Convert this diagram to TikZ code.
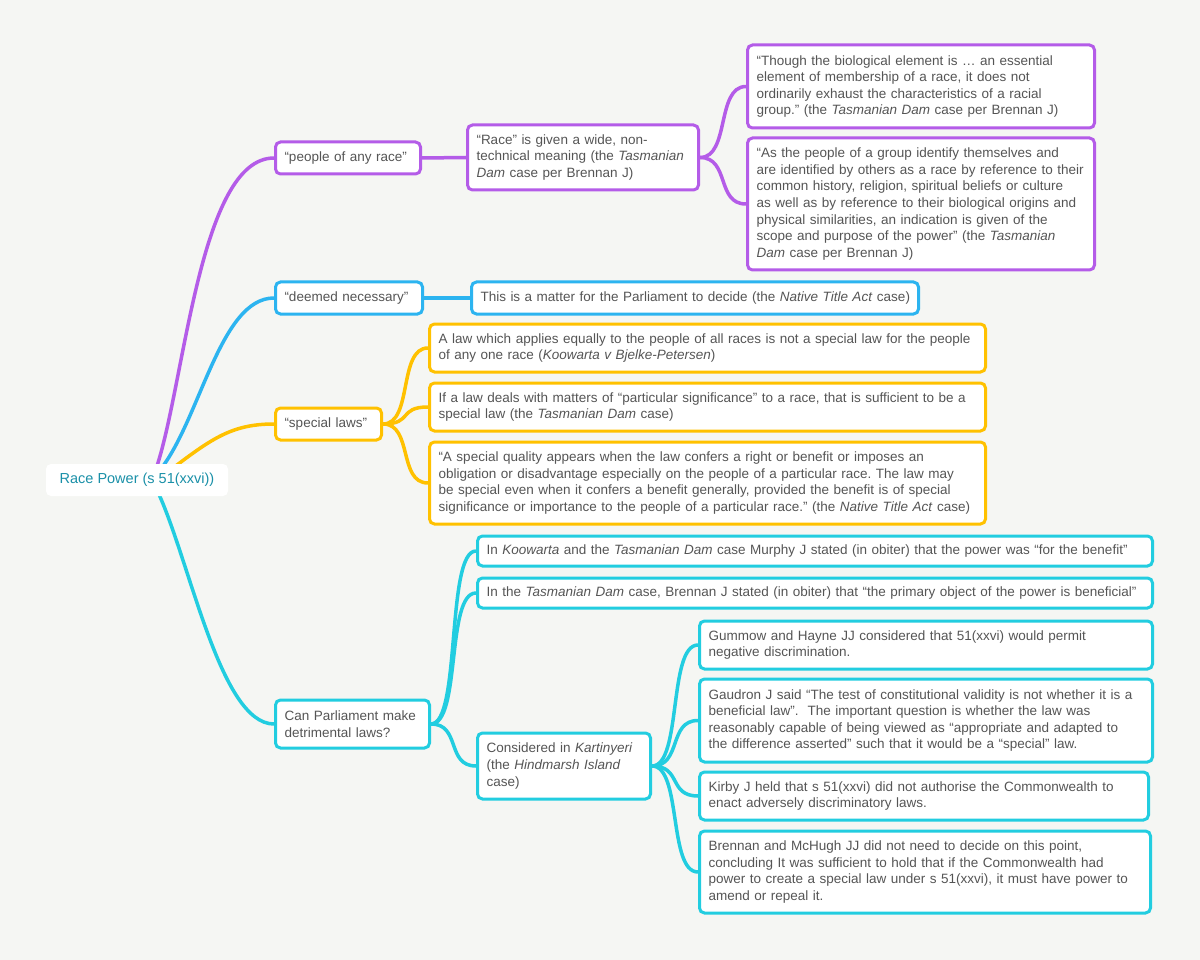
\documentclass[tikz,border=0pt]{standalone}
\usepackage{fontspec}
\setmainfont{Liberation Sans}
\frenchspacing
\definecolor{bg}{HTML}{F5F6F3}
\definecolor{cpur}{HTML}{B45CE8}
\definecolor{cblu}{HTML}{2CB4F0}
\definecolor{cyel}{HTML}{FFC100}
\definecolor{ccya}{HTML}{22CDE0}
\definecolor{txt}{HTML}{555555}
\definecolor{rootc}{HTML}{1A90A8}
\begin{document}
\begin{tikzpicture}[x=1pt,y=-1pt,
  box/.style={draw=#1, rounded corners=5pt, line width=3pt, fill=white, text=txt,
    font=\fontsize{13.5}{16.6}\selectfont, align=left, inner xsep=9pt, inner ysep=0pt},
  lnk/.style={draw=#1, line width=3.5pt}]
\fill[bg] (0,0) rectangle (1200,960);
\useasboundingbox (0,0) rectangle (1200,960);
\coordinate (r1) at (157,466);
\coordinate (r2) at (160,470);
\coordinate (r3) at (165,474);
\coordinate (r4) at (157,490);
% level 1
\node[box=cpur, text width=127pt, minimum height=32pt] (pr) at (348,158) {“people of any race”};
\node[box=cblu, text width=129pt, minimum height=32pt] (dn) at (349,298) {“deemed necessary”};
\node[box=cyel, text width=88pt, minimum height=32pt] (sl) at (328.5,424) {“special laws”};
\node[box=ccya, text width=136pt, minimum height=48pt] (cp) at (352.5,724) {Can Parliament make\\detrimental laws?};
% purple
\node[box=cpur, text width=213pt, minimum height=65pt] (rw) at (583,157.5) {“Race” is given a wide, non-\\technical meaning (the \textit{Tasmanian}\\\textit{Dam} case per Brennan J)};
\node[box=cpur, text width=329pt, minimum height=83pt] (q1) at (921,86.5) {“Though the biological element is … an essential\\element of membership of a race, it does not\\ordinarily exhaust the characteristics of a racial\\group.” (the \textit{Tasmanian Dam} case per Brennan J)};
\node[box=cpur, text width=329pt, minimum height=132pt] (q2) at (921,204) {“As the people of a group identify themselves and\\are identified by others as a race by reference to their\\common history, religion, spiritual beliefs or culture\\as well as by reference to their biological origins and\\physical similarities, an indication is given of the\\scope and purpose of the power” (the \textit{Tasmanian}\\\textit{Dam} case per Brennan J)};
% blue
\node[box=cblu, text width=441pt, inner xsep=3pt, minimum height=32pt] (pa) at (695,298) {\hspace*{6pt}This is a matter for the Parliament to decide (the \textit{Native Title Act} case)};
% yellow
\node[box=cyel, text width=538pt, minimum height=48pt] (al) at (707.5,348) {A law which applies equally to the people of all races is not a special law for the people\\of any one race (\textit{Koowarta v Bjelke-Petersen})};
\node[box=cyel, text width=538pt, minimum height=48pt] (il) at (707.5,407) {If a law deals with matters of “particular significance” to a race, that is sufficient to be a\\special law (the \textit{Tasmanian Dam} case)};
\node[box=cyel, text width=538pt, minimum height=82pt] (sq) at (707.5,483) {“A special quality appears when the law confers a right or benefit or imposes an\\obligation or disadvantage especially on the people of a particular race. The law may\\be special even when it confers a benefit generally, provided the benefit is of special\\significance or importance to the people of a particular race.” (the \textit{Native Title Act} case)};
% cyan
\node[box=ccya, text width=657pt, minimum height=30pt] (ko) at (815,551) {In \textit{Koowarta} and the \textit{Tasmanian Dam} case Murphy J stated (in obiter) that the power was “for the benefit”};
\node[box=ccya, text width=657pt, minimum height=30pt] (ta) at (815,593) {In the \textit{Tasmanian Dam} case, Brennan J stated (in obiter) that “the primary object of the power is beneficial”};
\node[box=ccya, text width=155pt, minimum height=66pt] (co) at (564,766) {Considered in \textit{Kartinyeri}\\(the \textit{Hindmarsh Island}\\case)};
\node[box=ccya, text width=435pt, minimum height=48pt] (gu) at (926,645) {Gummow and Hayne JJ considered that 51(xxvi) would permit\\negative discrimination.};
\node[box=ccya, text width=435pt, minimum height=83pt] (ga) at (926,720.5) {Gaudron J said “The test of constitutional validity is not whether it is a\\beneficial law”.\ \ The important question is whether the law was\\reasonably capable of being viewed as “appropriate and adapted to\\the difference asserted” such that it would be a “special” law.};
\node[box=ccya, text width=431pt, minimum height=48pt] (ki) at (924,796) {Kirby J held that s 51(xxvi) did not authorise the Commonwealth to\\enact adversely discriminatory laws.};
\node[box=ccya, text width=433pt, minimum height=82pt] (br) at (925,872) {Brennan and McHugh JJ did not need to decide on this point,\\concluding It was sufficient to hold that if the Commonwealth had\\power to create a special law under s 51(xxvi), it must have power to\\amend or repeal it.};
% connectors
\draw[lnk=cpur] (r1) .. controls (185,380) and (200,158) .. (pr.west);
\draw[lnk=cblu] (r2) .. controls (200,420) and (220,298) .. (dn.west);
\draw[lnk=cyel] (r3) .. controls (210,440) and (230,424) .. (sl.west);
\draw[lnk=ccya] (r4) .. controls (190,560) and (220,724) .. (cp.west);
\foreach \c in {q1,q2}{\draw[lnk=cpur] (rw.east) .. controls +(30,0) and +(-30,0) .. (\c.west);}
\draw[lnk=cblu] (dn.east) -- (pa.west);
\foreach \c in {al,il,sq}{\draw[lnk=cyel] (sl.east) .. controls +(30,0) and +(-30,0) .. (\c.west);}
\draw[lnk=cpur] (pr.east) -- (rw.west);
\foreach \c in {ko,ta,co}{\draw[lnk=ccya] (cp.east) .. controls +(30,0) and +(-30,0) .. (\c.west);}
\foreach \c in {gu,ga,ki,br}{\draw[lnk=ccya] (co.east) .. controls +(30,0) and +(-30,0) .. (\c.west);}
\node[fill=white, rounded corners=5pt, minimum width=182pt, minimum height=32pt, text=rootc, font=\fontsize{14.5}{16}\selectfont] (root) at (137,480) {Race Power (s 51(xxvi))};
\end{tikzpicture}
\end{document}
